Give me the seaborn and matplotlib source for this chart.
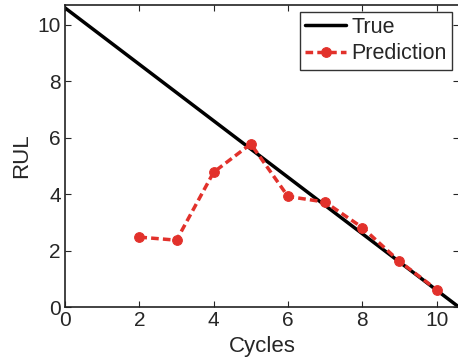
import numpy as np
import pandas as pd
import matplotlib
matplotlib.use("Agg")
import matplotlib.pyplot as plt
import seaborn as sns

sns.set_style("ticks")
plt.rcParams["font.family"] = ["Liberation Sans", "DejaVu Sans"]
plt.rcParams.update({"xtick.direction": "in", "ytick.direction": "in",
                     "xtick.top": True, "ytick.right": True})

# true RUL line end points
true_cycles = [0, 10.6]
true_rul = [10.6, 0]

# predicted RUL
pred_cycles = [2, 3, 4, 5, 6, 7, 8, 9, 10]
pred_rul = [2.48, 2.37, 4.78, 5.78, 3.92, 3.72, 2.82, 1.62, 0.62]

df_true = pd.DataFrame({"Cycles": true_cycles, "RUL": true_rul})
df_pred = pd.DataFrame({"Cycles": pred_cycles, "RUL": pred_rul})

fig = plt.figure(figsize=(4.58, 3.63), dpi=100)
ax = fig.add_axes([0.142, 0.154, 0.86, 0.832])

red = "#e2312b"
sns.lineplot(data=df_true, x="Cycles", y="RUL", ax=ax, color="black",
             linewidth=2.5, label="True")
sns.lineplot(data=df_pred, x="Cycles", y="RUL", ax=ax, color=red,
             linewidth=2.5, linestyle=(0, (2.2, 1.2)), marker="o",
             markersize=7, markerfacecolor=red, markeredgecolor=red,
             label="Prediction")

ax.set_xlim(0, 10.6)
ax.set_ylim(0, 10.7)
ax.set_xticks(range(0, 11, 2))
ax.set_yticks(range(0, 11, 2))
ax.tick_params(labelsize=15, length=4, width=0.8, pad=3)
ax.set_xlabel("Cycles", fontsize=16, labelpad=4)
ax.set_ylabel("RUL", fontsize=16, labelpad=4)
for s in ax.spines.values():
    s.set_linewidth(1.2)
    s.set_color("#222222")

leg = ax.legend(loc="upper right", fontsize=15.5, frameon=True, fancybox=False,
                edgecolor="black", borderpad=0.25, handlelength=1.9,
                handletextpad=0.25, labelspacing=0.25, borderaxespad=0.3)
leg.get_frame().set_linewidth(1.0)

fig.savefig("out.png", dpi=100)
